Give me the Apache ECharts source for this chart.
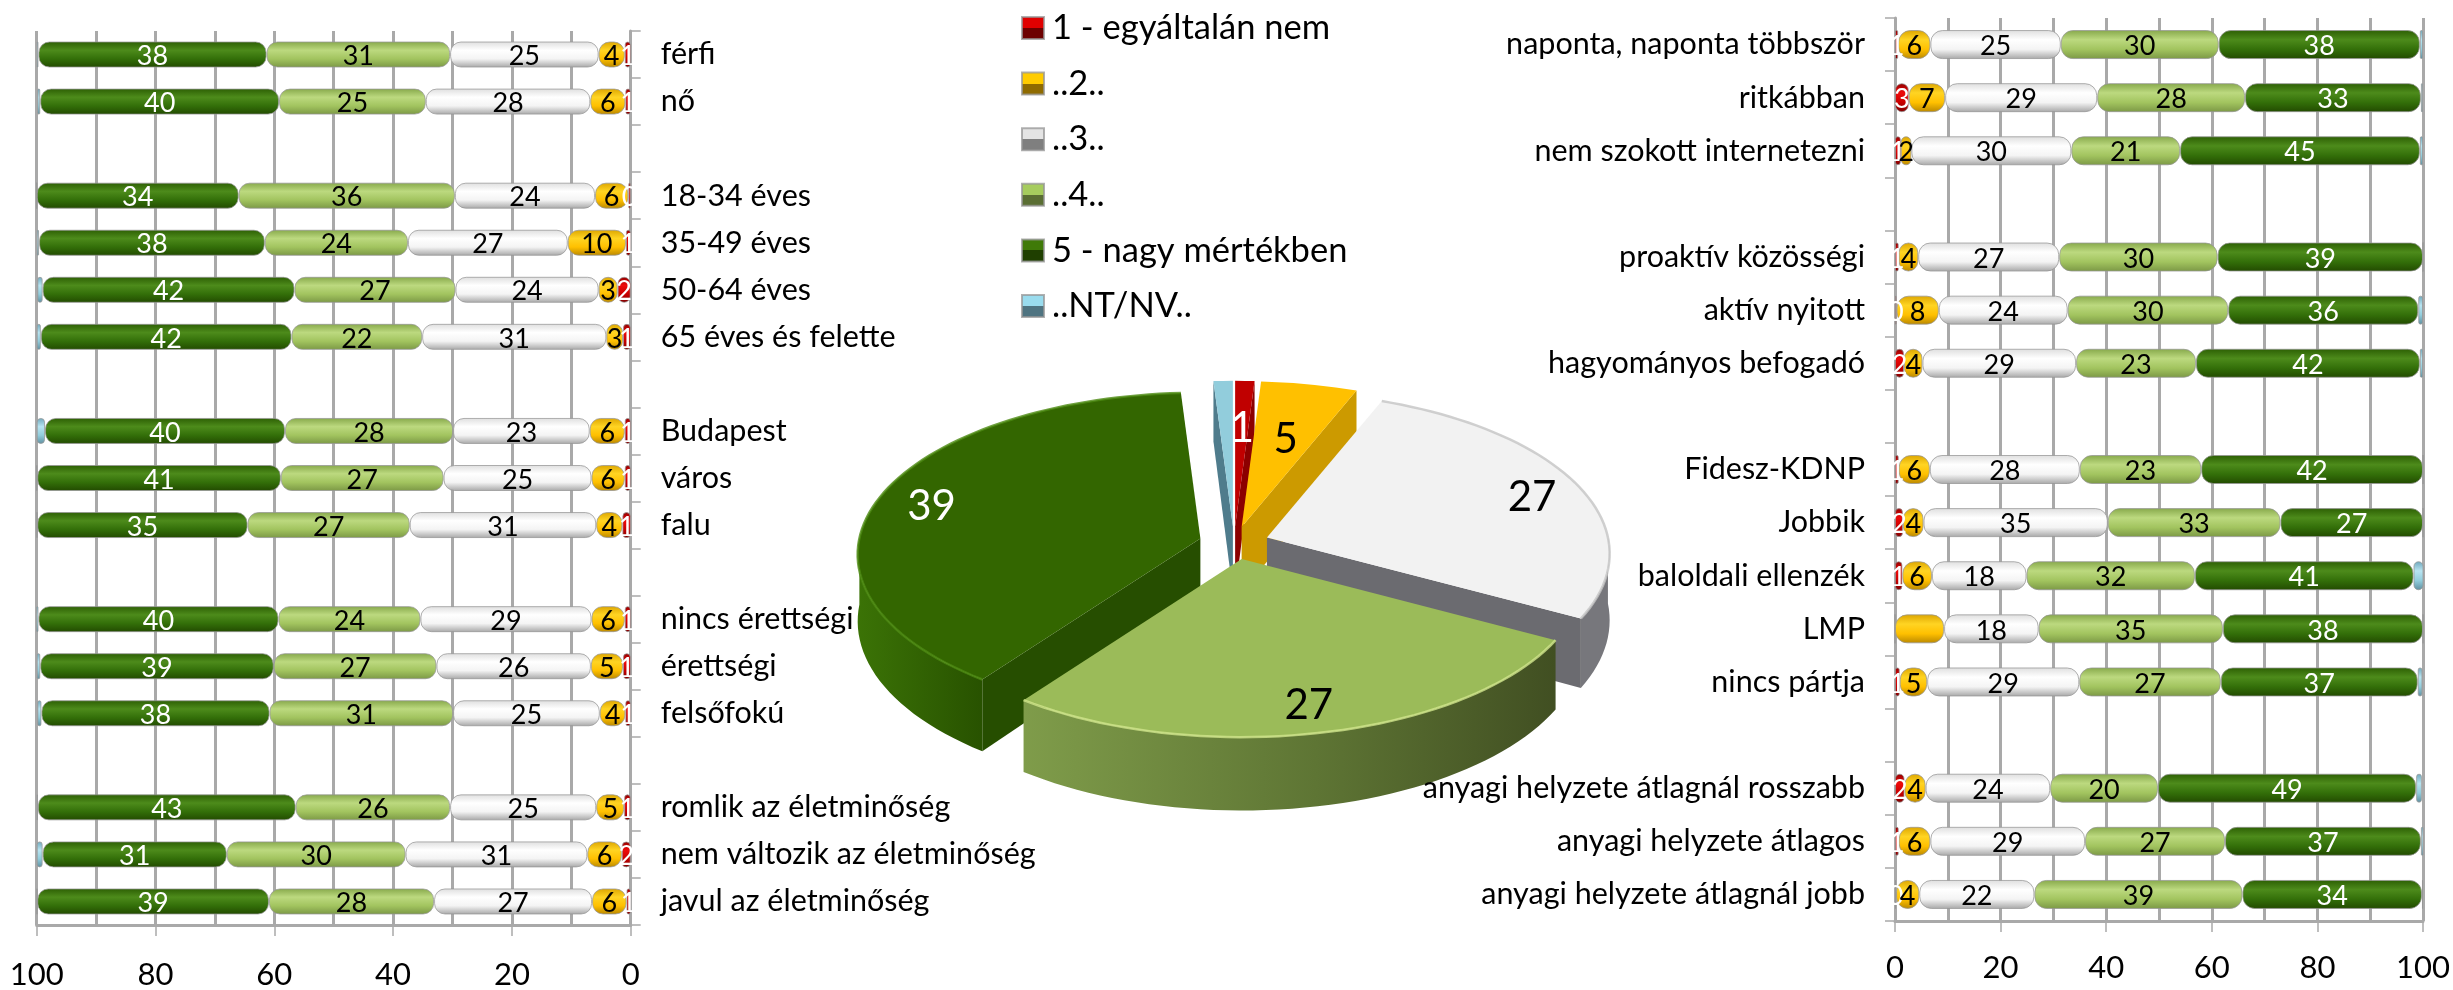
<!DOCTYPE html>
<html>
<head>
<meta charset="utf-8">
<title>Felmérés</title>
<script src="https://cdn.jsdelivr.net/npm/echarts@6/dist/echarts.min.js"></script>
<style>
  html, body { margin: 0; padding: 0; background: #fff; }
  #chart { width: 2453px; height: 990px; }
</style>
</head>
<body>
<div id="chart"></div>
<script>
const seriesNames = ['1 - egyáltalán nem', '..2..', '..3..', '..4..', '5 - nagy mértékben', '..NT/NV..']

// bal oldali diagram
const leftCategories = ['férfi', 'nő', '', '18-34 éves', '35-49 éves', '50-64 éves', '65 éves és felette', ' ',
  'Budapest', 'város', 'falu', '  ', 'nincs érettségi', 'érettségi', 'felsőfokú', '   ',
  'romlik az életminőség', 'nem változik az életminőség', 'javul az életminőség']
const leftRed = [1, 0.9, null, 0.4, 0.8, 2.2, 1.3, null, 1, 1, 1.4, null, 1, 1.3, 0.9, null, 1.1, 1.5, 0.7]
const leftYellow = [4.4, 5.9, null, 5.6, 9.8, 3.2, 2.8, null, 5.9, 5.6, 4.4, null, 5.6, 5.4, 4.3, null, 4.7, 5.8, 5.8]
const leftWhite = [25, 27.7, null, 23.6, 26.9, 24.1, 31, null, 23, 24.9, 31.4, null, 28.8, 26, 24.7, null, 24.6, 30.6, 26.6]
const leftLight = [30.9, 24.7, null, 36.4, 24.1, 27.1, 22, null, 28.3, 27.4, 27.3, null, 23.9, 27.4, 30.9, null, 26, 30.1, 27.8]
const leftDark = [38.4, 40.2, null, 34, 38, 42.4, 42.2, null, 40.4, 41, 35.4, null, 40.4, 39.3, 38.4, null, 43.4, 31, 39]
const leftNt = [0.3, 0.5, null, 0, 0.4, 0.9, 0.7, null, 1.4, 0.6, 0.1, null, 0.8, 0.6, 0.7, null, 0.2, 1, 0.1]

// jobb oldali diagram
const rightCategories = ['naponta, naponta többször', 'ritkábban', 'nem szokott internetezni', '',
  'proaktív közösségi', 'aktív nyitott', 'hagyományos befogadó', ' ',
  'Fidesz-KDNP', 'Jobbik', 'baloldali ellenzék', 'LMP', 'nincs pártja', '  ',
  'anyagi helyzete átlagnál rosszabb', 'anyagi helyzete átlagos', 'anyagi helyzete átlagnál jobb']
const rightRed = [0.6, 2.6, 1.1, null, 0.7, 0.3, 1.7, null, 0.7, 1.5, 1.4, 0, 0.9, null, 1.8, 0.7, 0.2]
const rightYellow = [6.1, 6.9, 2, null, 3.7, 8, 3.5, null, 5.9, 3.9, 5.6, 9.3, 5.2, null, 4, 6, 4.4]
const rightWhite = [24.7, 28.8, 30.3, null, 26.7, 24.4, 29.1, null, 28.4, 34.9, 17.9, 17.9, 28.8, null, 23.6, 29.3, 21.8]
const rightLight = [29.9, 28, 20.6, null, 30, 30.4, 22.7, null, 23, 32.7, 31.9, 34.9, 26.8, null, 20.4, 26.5, 39.4]
const rightDark = [38.1, 33.3, 45.4, null, 38.9, 36, 42.4, null, 42, 27, 41.4, 37.9, 37.3, null, 48.9, 37.1, 34]
const rightNt = [0.6, 0.4, 0.6, null, 0, 0.9, 0.6, null, 0, 0, 2, 0, 0.9, null, 1.1, 0.5, 0.2]

// kör
const pieValues = [1, 5, 27, 27, 39, 1]
const pieDrawOrder = [5, 0, 1, 4, 2, 3]
const pieLabelRadius = [0.69, 0.63, 0.85, 0.83, 0.84, 0]

const axisTicks = [0, 20, 40, 60, 80, 100]

const fontName = 'Lato'
const gridGrey = '#a9a9a9'

const vGrad = (stops) => new echarts.graphic.LinearGradient(0, 0, 0, 1,
  stops.map((c, i) => ({offset: i / (stops.length - 1), color: c})))

const barGradients = [
  vGrad(['#8f0000', '#ee0a0a', '#c80000', '#7d0000']),
  vGrad(['#dca500', '#ffd423', '#ffc000', '#b98700']),
  vGrad(['#dedede', '#ffffff', '#f4f4f4', '#a6a6a6']),
  vGrad(['#86a84a', '#bcd97f', '#a2c45f', '#7b9845']),
  vGrad(['#2c5e03', '#4d8b1b', '#336f09', '#224a00']),
  vGrad(['#6ea7bb', '#b8e4f1', '#92cddc', '#5e8e9f'])
]
const labelColors = ['#fff', '#000', '#000', '#000', '#fff', '#fff']

const legendColors = [
  ['#e00000', '#6d0000'], ['#ffcc00', '#8f6b00'], ['#e4e4e4', '#7f7f7f'],
  ['#a6cc5e', '#5a6e33'], ['#3f7a08', '#1f3f00'], ['#9adcee', '#4f7481']
]

const hardSplit = (pair) => new echarts.graphic.LinearGradient(0, 0, 0, 1, [
  {offset: 0, color: pair[0]}, {offset: 0.5, color: pair[0]},
  {offset: 0.5, color: pair[1]}, {offset: 1, color: pair[1]}
])

// sáv sorozatok egy diagramhoz
const buildBars = (columns, categories, axisIndex, stack, barWidth) =>
  columns.map((values, s) => ({
    name: seriesNames[s],
    type: 'bar',
    stack,
    xAxisIndex: axisIndex,
    yAxisIndex: axisIndex,
    barWidth,
    data: values,
    itemStyle: {
      color: barGradients[s],
      borderRadius: barWidth * 0.4,
      borderColor: 'rgba(150,150,150,0.75)',
      borderWidth: 1
    },
    label: {
      show: s < 5,
      position: 'inside',
      offset: [0, 2],
      fontFamily: fontName,
      fontSize: 27,
      color: labelColors[s],
      formatter: (p) => {
        if (!p.value) return ''
        // az LMP sárga sávján nincs felirat az eredetiben
        if (s === 1 && categories[p.dataIndex] === 'LMP') return ''
        return String(Math.round(p.value))
      }
    },
    emphasis: {disabled: true}
  }))

// 3D kör vetítése
const pieGeom = {cx: 1234, cy: 543, rx: 341, tilt: 0.47, persp: 0.1, explode: 35, depth: 66}
const rad = (d) => d * Math.PI / 180

const project = (apex, theta, r, drop) => {
  const sin = Math.sin(rad(theta))
  const y = -Math.cos(rad(theta))
  const p = 1 / (1 - pieGeom.persp * y * r)
  return [
    apex[0] + pieGeom.rx * r * sin * p,
    apex[1] + pieGeom.rx * pieGeom.tilt * r * y * p + drop * p
  ]
}

const arcPoints = (apex, from, to, drop) => {
  const pts = []
  const steps = Math.max(2, Math.ceil((to - from) / 2))
  for (let i = 0; i <= steps; i++) {
    pts.push(project(apex, from + (to - from) * i / steps, 1, drop))
  }
  return pts
}

const pieStyles = [
  {top: '#c00000', rim: '#8c0000', wall: '#8c0000'},
  {top: '#ffc000', rim: '#c99700', wall: '#cc9a00'},
  {top: '#f2f2f2', rim: '#77777c', wall: '#6b6b70', edge: '#c4c4c4'},
  {top: '#9bbb59', wall: '#71893f', edge: '#cfe58b',
    rim: new echarts.graphic.LinearGradient(0, 0, 1, 0, [
      {offset: 0, color: '#7f9c4a'}, {offset: 0.55, color: '#5e7534'}, {offset: 1, color: '#414f22'}
    ])},
  {top: '#336600', wall: '#264e00', edge: '#4c8a12',
    rim: new echarts.graphic.LinearGradient(0, 0, 1, 0, [
      {offset: 0, color: '#3b7306'}, {offset: 1, color: '#285200'}
    ])},
  {top: '#92cddc', rim: '#4f7c8c', wall: '#4f7c8c'}
]

const pieTotal = pieValues.reduce((a, b) => a + b, 0)

const renderPieSlice = (params, api) => {
  const i = params.dataIndex
  let before = 0
  for (let j = 0; j < i; j++) before += pieValues[j]
  const start = before / pieTotal * 360
  const end = start + api.value(0) / pieTotal * 360
  const mid = (start + end) / 2
  const apex = [
    pieGeom.cx + pieGeom.explode * Math.sin(rad(mid)),
    pieGeom.cy - pieGeom.explode * pieGeom.tilt * Math.cos(rad(mid))
  ]
  const st = pieStyles[i]
  const z = pieDrawOrder.indexOf(i) * 10 + 1
  const children = []
  const wallAt = (theta, fill) => {
    const c = project(apex, theta, 1, 0)
    const d = project(apex, theta, 1, pieGeom.depth)
    children.push({
      type: 'polygon', z2: z,
      shape: {points: [apex, c, d, [apex[0], apex[1] + pieGeom.depth]]},
      style: {fill}
    })
  }
  // oldalfal a vágásnál, csak ami a néző felé fordul
  if (Math.cos(rad(end + 90)) < 0.01 && end > 0) wallAt(end, st.wall)
  if (Math.cos(rad(start - 90)) < -0.01) wallAt(start, st.wall)
  // külső palást
  const rimFrom = Math.max(start, 90)
  const rimTo = Math.min(end, 270)
  if (rimTo > rimFrom) {
    const up = arcPoints(apex, rimFrom, rimTo, 0)
    const down = arcPoints(apex, rimFrom, rimTo, pieGeom.depth).reverse()
    children.push({type: 'polygon', z2: z + 1, shape: {points: up.concat(down)}, style: {fill: st.rim}})
  }
  // felső lap
  children.push({
    type: 'polygon', z2: z + 2,
    shape: {points: [apex].concat(arcPoints(apex, start, end, 0))},
    style: {fill: st.top}
  })
  if (st.edge) {
    children.push({
      type: 'polyline', z2: z + 3,
      shape: {points: arcPoints(apex, start, end, 0)},
      style: {fill: 'none', stroke: st.edge, lineWidth: 2.5, opacity: 0.8}
    })
  }
  if (pieLabelRadius[i] > 0) {
    const at = project(apex, mid, pieLabelRadius[i], 0)
    children.push({
      type: 'text', z2: 100,
      style: {
        text: String(api.value(0)), x: at[0], y: at[1] + 5,
        fill: i === 0 || i === 4 ? '#fff' : '#000',
        fontSize: 42, fontFamily: fontName, align: 'center', verticalAlign: 'middle'
      }
    })
  }
  return {type: 'group', children}
}

const valueAxis = (gridIndex, inverse, margin) => ({
  type: 'value',
  gridIndex,
  inverse,
  min: 0,
  max: 100,
  interval: 20,
  axisLine: {show: true, lineStyle: {color: gridGrey, width: 3}},
  axisTick: {show: true, length: 11, lineStyle: {color: gridGrey, width: 1.5}},
  axisLabel: {margin, fontFamily: fontName, fontSize: 31, color: '#000',
    formatter: (v) => axisTicks.includes(v) ? String(v) : ''},
  splitLine: {show: true, lineStyle: {color: gridGrey, width: 3}},
  minorTick: {show: false, splitNumber: 2},
  minorSplitLine: {show: true, lineStyle: {color: gridGrey, width: 3}}
})

const categoryAxis = (gridIndex, data, position, tickLength, margin, padTop) => ({
  type: 'category',
  gridIndex,
  data,
  inverse: true,
  position,
  axisLine: {show: true, onZero: false, lineStyle: {color: gridGrey, width: 3}},
  axisTick: {show: true, length: tickLength, lineStyle: {color: gridGrey, width: 1.5}},
  axisLabel: {margin, interval: 0, fontFamily: fontName, fontSize: 30.5, color: '#000', padding: [padTop, 0, 0, 0]}
})

const chart = echarts.init(document.getElementById('chart'))

chart.setOption({
  animation: false,
  backgroundColor: '#fff',
  legend: {
    left: 1021,
    top: 10,
    padding: 0,
    orient: 'vertical',
    selectedMode: false,
    itemWidth: 22,
    itemHeight: 22,
    itemGap: 19.6,
    textStyle: {fontFamily: fontName, fontSize: 34.5, color: '#000', padding: [0, 0, 0, 3], lineHeight: 36},
    data: seriesNames.map((name, i) => ({name, icon: 'rect', itemStyle: {color: hardSplit(legendColors[i])}}))
  },
  grid: [
    {left: 36.7, top: 31, width: 594, height: 895},
    {left: 1895, top: 18, width: 528, height: 903}
  ],
  xAxis: [valueAxis(0, true, 34), valueAxis(1, false, 31)],
  yAxis: [
    categoryAxis(0, leftCategories, 'right', 10, 30, 5),
    categoryAxis(1, rightCategories, 'left', 10, 30, 2)
  ],
  series: [
    ...buildBars([leftRed, leftYellow, leftWhite, leftLight, leftDark, leftNt], leftCategories, 0, 'left', 26),
    ...buildBars([rightRed, rightYellow, rightWhite, rightLight, rightDark, rightNt], rightCategories, 1, 'right', 29),
    {
      type: 'custom',
      coordinateSystem: 'none',
      z: -1,
      silent: true,
      data: pieValues.map((v) => [v]),
      renderItem: renderPieSlice
    }
  ]
})

window.addEventListener('resize', () => {
  chart.resize()
})
</script>
</body>
</html>
